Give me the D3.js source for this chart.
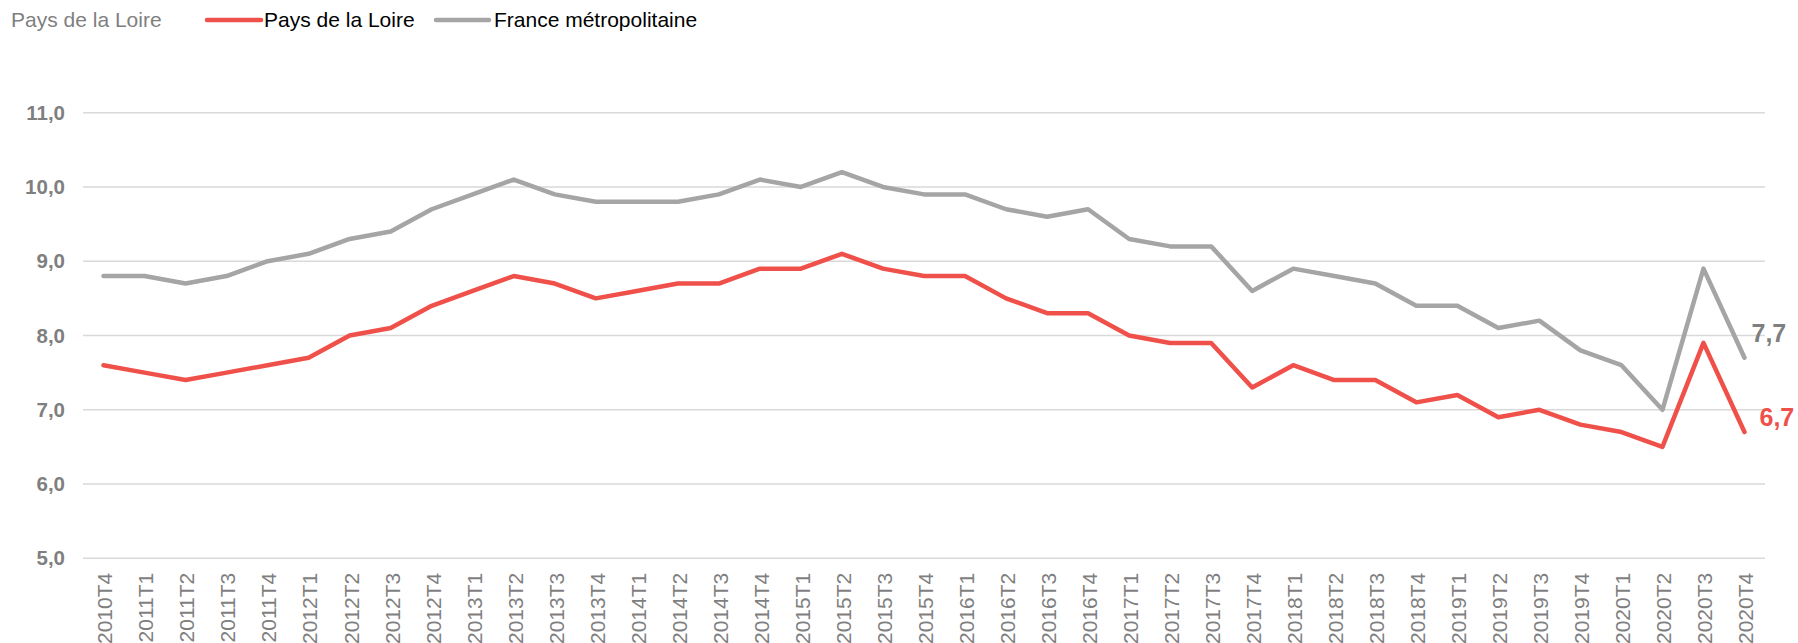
<!DOCTYPE html>
<html>
<head>
<meta charset="utf-8">
<script src="https://cdn.jsdelivr.net/npm/d3@7"></script>
<style>
body { margin: 0; background: #fff; }
text { font-family: "Liberation Sans", Arial, sans-serif; }
</style>
</head>
<body>
<script>
var width = 1798, height = 643;

var quarters = ["2010T4",
  "2011T1","2011T2","2011T3","2011T4",
  "2012T1","2012T2","2012T3","2012T4",
  "2013T1","2013T2","2013T3","2013T4",
  "2014T1","2014T2","2014T3","2014T4",
  "2015T1","2015T2","2015T3","2015T4",
  "2016T1","2016T2","2016T3","2016T4",
  "2017T1","2017T2","2017T3","2017T4",
  "2018T1","2018T2","2018T3","2018T4",
  "2019T1","2019T2","2019T3","2019T4",
  "2020T1","2020T2","2020T3","2020T4"];

var paysLoire = [7.6,
  7.5,7.4,7.5,7.6,
  7.7,8.0,8.1,8.4,
  8.6,8.8,8.7,8.5,
  8.6,8.7,8.7,8.9,
  8.9,9.1,8.9,8.8,
  8.8,8.5,8.3,8.3,
  8.0,7.9,7.9,7.3,
  7.6,7.4,7.4,7.1,
  7.2,6.9,7.0,6.8,
  6.7,6.5,7.9,6.7];

var franceMetro = [8.8,
  8.8,8.7,8.8,9.0,
  9.1,9.3,9.4,9.7,
  9.9,10.1,9.9,9.8,
  9.8,9.8,9.9,10.1,
  10.0,10.2,10.0,9.9,
  9.9,9.7,9.6,9.7,
  9.3,9.2,9.2,8.6,
  8.9,8.8,8.7,8.4,
  8.4,8.1,8.2,7.8,
  7.6,7.0,8.9,7.7];

var yTicks = [5, 6, 7, 8, 9, 10, 11];

var red = "#f0504a", grey = "#a5a5a5", txt = "#7f7f7f";

var svg = d3.select("body").append("svg")
  .attr("width", width)
  .attr("height", height);

var x = d3.scaleBand()
  .domain(quarters)
  .range([83, 1765]);

var y = d3.scaleLinear()
  .domain([5, 11])
  .range([558.3, 112.7]);

var fmt = function(v) { return d3.format(".1f")(v).replace(".", ","); };

// grid
svg.append("g")
  .selectAll("line")
  .data(yTicks)
  .enter()
  .append("line")
  .attr("x1", 83)
  .attr("x2", 1765)
  .attr("y1", function(d) { return y(d); })
  .attr("y2", function(d) { return y(d); })
  .attr("stroke", "#d9d9d9")
  .attr("stroke-width", 1.5);

// y axis
var yAxis = svg.append("g")
  .attr("transform", "translate(83,0)")
  .call(d3.axisLeft(y).tickValues(yTicks).tickSize(0).tickPadding(18).tickFormat(fmt));
yAxis.select(".domain").remove();
yAxis.selectAll("text")
  .attr("font-size", 20.5)
  .attr("font-weight", "bold")
  .attr("fill", txt);

// x axis
var xAxis = svg.append("g")
  .attr("transform", "translate(0," + y(5) + ")")
  .call(d3.axisBottom(x).tickSize(0));
xAxis.select(".domain").remove();
xAxis.selectAll("text")
  .attr("font-size", 21)
  .attr("fill", txt)
  .attr("transform", "rotate(-90)")
  .attr("text-anchor", "end")
  .attr("x", -14.5)
  .attr("y", 1.5)
  .attr("dy", "0.35em");

var line = d3.line()
  .x(function(d, i) { return x(quarters[i]) + x.bandwidth() / 2; })
  .y(function(d) { return y(d); });

var series = [
  { name: "France métropolitaine", values: franceMetro, color: grey, label: txt, dx: 7, dy: -25 },
  { name: "Pays de la Loire", values: paysLoire, color: red, label: red, dx: 15, dy: -15 }
];

series.forEach(function(s) {
  svg.append("path")
    .datum(s.values)
    .attr("d", line)
    .attr("fill", "none")
    .attr("stroke", s.color)
    .attr("stroke-width", 4.5)
    .attr("stroke-linejoin", "round")
    .attr("stroke-linecap", "round");

  var last = s.values.length - 1;
  svg.append("text")
    .attr("x", x(quarters[last]) + x.bandwidth() / 2 + s.dx)
    .attr("y", y(s.values[last]) + s.dy)
    .attr("dy", "0.35em")
    .attr("font-size", 25)
    .attr("font-weight", "bold")
    .attr("fill", s.label)
    .text(fmt(s.values[last]));
});

// legend
var legend = svg.append("g");
legend.append("text")
  .attr("x", 11)
  .attr("y", 20)
  .attr("dy", "0.35em")
  .attr("font-size", 21)
  .attr("fill", txt)
  .text("Pays de la Loire");

var legendItems = [
  { label: "Pays de la Loire", color: red, x1: 207, x2: 261, tx: 264 },
  { label: "France métropolitaine", color: grey, x1: 436, x2: 489, tx: 494 }
];
legendItems.forEach(function(d) {
  legend.append("line")
    .attr("x1", d.x1).attr("x2", d.x2)
    .attr("y1", 20).attr("y2", 20)
    .attr("stroke", d.color)
    .attr("stroke-width", 4.5)
    .attr("stroke-linecap", "round");
  legend.append("text")
    .attr("x", d.tx)
    .attr("y", 20)
    .attr("dy", "0.35em")
    .attr("font-size", 21)
    .attr("fill", "#000")
    .text(d.label);
});
</script>
</body>
</html>
